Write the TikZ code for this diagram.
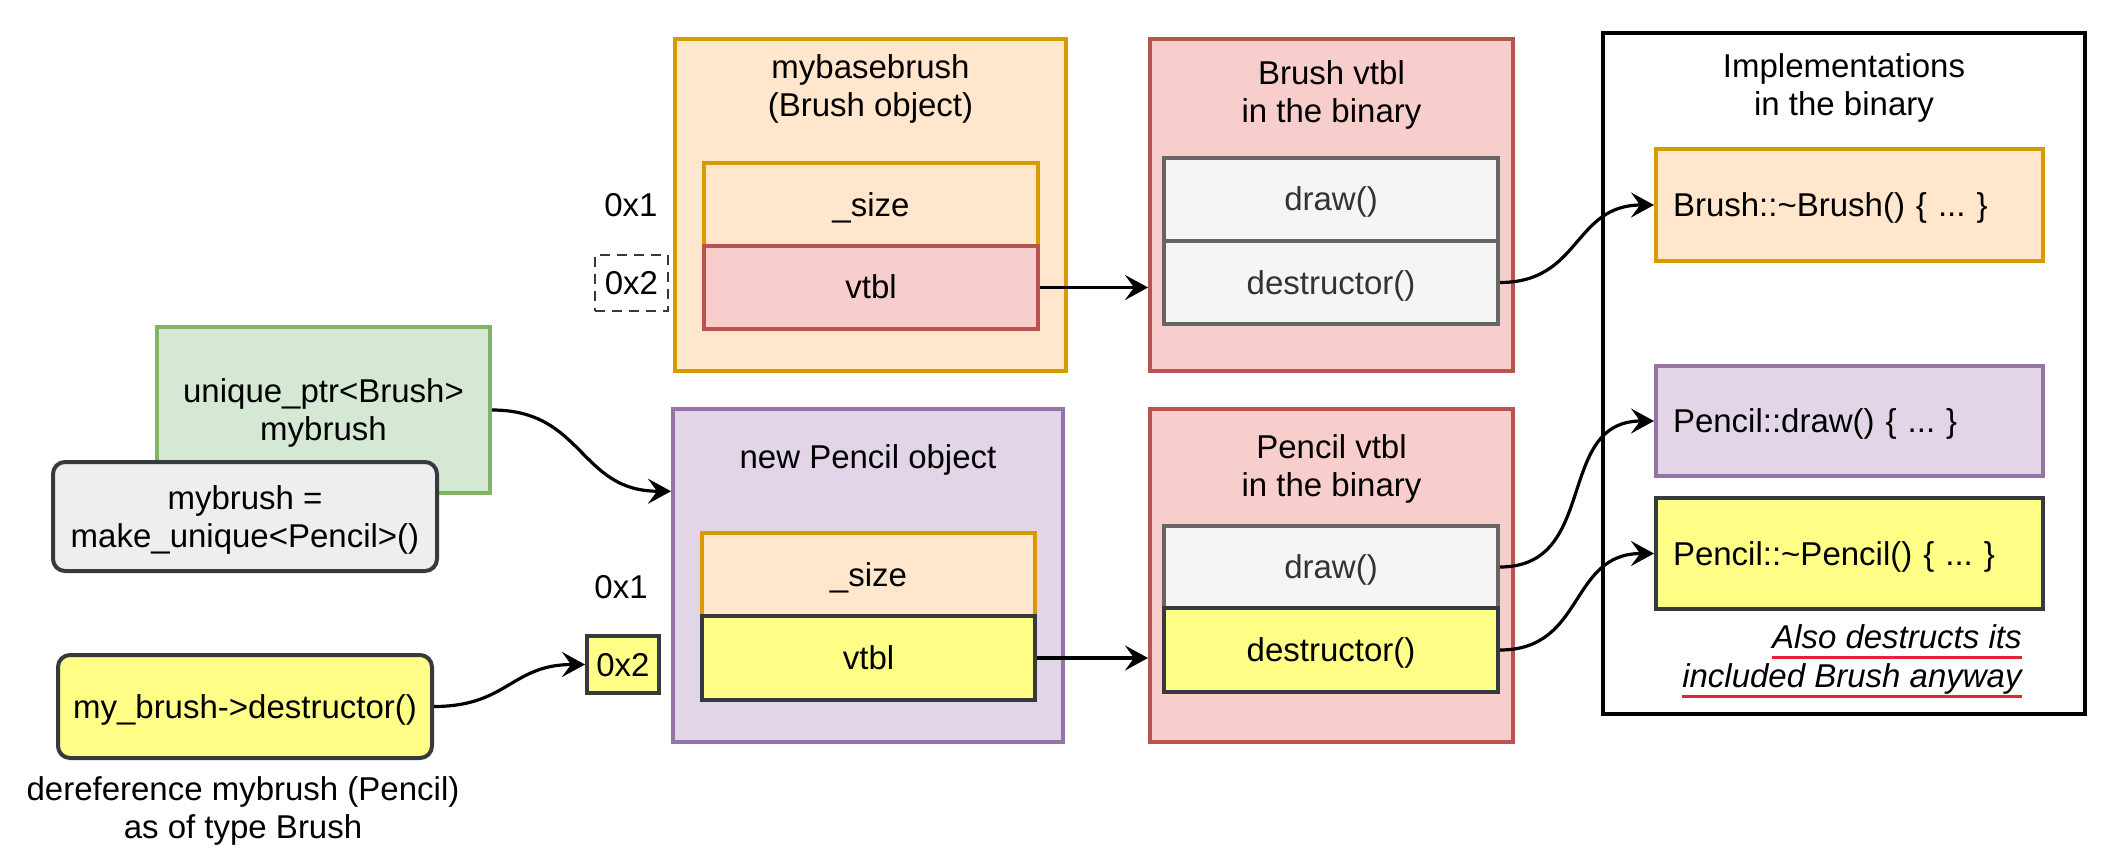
\documentclass[tikz,border=0pt]{standalone}
\usepackage{fontspec}
\setmainfont{Liberation Sans}
\usetikzlibrary{arrows.meta,calc}
\definecolor{oFill}{HTML}{FFE6CC}\definecolor{oLine}{HTML}{D79B00}
\definecolor{rFill}{HTML}{F8CECC}\definecolor{rLine}{HTML}{B85450}
\definecolor{pFill}{HTML}{E1D5E7}\definecolor{pLine}{HTML}{9673A6}
\definecolor{gFill}{HTML}{D5E8D4}\definecolor{gLine}{HTML}{82B366}
\definecolor{sFill}{HTML}{F5F5F5}\definecolor{sLine}{HTML}{666666}\definecolor{sText}{HTML}{333333}
\definecolor{eFill}{HTML}{EEEEEE}\definecolor{dLine}{HTML}{36393D}
\definecolor{yFill}{HTML}{FFFF88}\definecolor{ulRed}{HTML}{E6213A}
\newcommand\ts{\vrule height 15pt depth 3.5pt width 0pt}
\frenchspacing
\begin{document}
\begin{tikzpicture}[x=0.5pt,y=-0.5pt,
  every node/.style={font=\fontsize{16.5pt}{19pt}\selectfont\frenchspacing, inner sep=0pt, align=center},
  box/.style={draw, line width=2pt},
  orangebox/.style={box, fill=oFill, draw=oLine},
  redbox/.style={box, fill=rFill, draw=rLine},
  purplebox/.style={box, fill=pFill, draw=pLine},
  greenbox/.style={box, fill=gFill, draw=gLine},
  graybox/.style={box, fill=sFill, draw=sLine, text=sText},
  yellowbox/.style={box, fill=yFill, draw=dLine},
  roundgray/.style={box, fill=eFill, draw=dLine, rounded corners=6pt},
  roundyellow/.style={box, fill=yFill, draw=dLine, rounded corners=6pt},
  implbox/.style={box, align=left, text width=176.5pt, inner xsep=8.5pt, minimum width=193.5pt},
  conn/.style={line width=1.6pt, -{Stealth[length=11.5pt,width=12.5pt,inset=4.5pt]}},
  note/.style={font=\fontsize{16.5pt}{19pt}\selectfont\itshape, anchor=base east},
  uline/.style={line width=1.5pt, draw=ulRed}
]
\useasboundingbox (0,0) rectangle (2106,856);

% mybasebrush object
\node[orangebox, minimum width=195.5pt, minimum height=166pt] (base) at (870.5,205) {};
\node (tbase) at (870.5,86.5) {\ts mybasebrush\\\ts(Brush object)};
\node[orangebox, minimum width=167pt, minimum height=41.5pt] (size1) at (871,204.5) {\ts\_size};
\node[redbox, minimum width=167pt, minimum height=41.5pt] (vtbl1) at (871,287.5) {\ts vtbl};
\node (lab1a) at (631,205.5) {\ts 0x1};
\node[draw=dLine, line width=1pt, dash pattern=on 5pt off 3.5pt, minimum width=36.5pt, minimum height=28pt] (addr2a) at (631.5,283) {\ts 0x2};

% Brush vtbl
\node[redbox, minimum width=181.5pt, minimum height=166pt] (bvt) at (1331.5,205) {};
\node (tbvt) at (1331.5,92.5) {\ts Brush vtbl\\\ts in the binary};
\node[graybox, minimum width=167pt, minimum height=41.5pt] (draw1) at (1331,199.5) {\ts draw()};
\node[graybox, minimum width=167pt, minimum height=41.5pt] (dtor1) at (1331,282.5) {\ts destructor()};

% Implementations
\node[draw, line width=2.2pt, fill=white, minimum width=241pt, minimum height=340.5pt] (impl) at (1844,373.5) {};
\node (timpl) at (1844,85.5) {\ts Implementations\\\ts in the binary};
\node[implbox, orangebox, minimum height=56pt] (bimpl) at (1849.5,205) {\ts Brush::\textasciitilde Brush() \{ ... \}};
\node[implbox, purplebox, minimum height=55pt] (pdimpl) at (1849.5,421) {\ts Pencil::draw() \{ ... \}};
\node[implbox, yellowbox, minimum height=55.5pt] (pdtimpl) at (1849.5,553.5) {\ts Pencil::\textasciitilde Pencil() \{ ... \}};
\node[note] (note1) at (2022,648) {Also destructs its};
\node[note] (note2) at (2022,687) {included Brush anyway};
\draw[uline] ([yshift=-4.5pt]note1.base west) -- ([yshift=-4.5pt]note1.base east);
\draw[uline] ([yshift=-4.5pt]note2.base west) -- ([yshift=-4.5pt]note2.base east);

% new Pencil object
\node[purplebox, minimum width=195pt, minimum height=166.5pt] (pobj) at (868,575.5) {};
\node (tpobj) at (868,456.5) {\ts new Pencil object};
\node[orangebox, minimum width=166.5pt, minimum height=41.5pt] (size2) at (868.5,574.5) {\ts\_size};
\node[yellowbox, minimum width=166.5pt, minimum height=42pt] (vtbl2) at (868.5,658) {\ts vtbl};
\node (lab1b) at (621,586.5) {\ts 0x1};
\node[yellowbox, minimum width=36pt, minimum height=28.5pt] (addr2b) at (623,664.5) {\ts 0x2};

% Pencil vtbl
\node[redbox, minimum width=181.5pt, minimum height=166.5pt] (pvt) at (1331.5,575.5) {};
\node (tpvt) at (1331.5,465.5) {\ts Pencil vtbl\\\ts in the binary};
\node[graybox, minimum width=167pt, minimum height=41pt] (draw2) at (1331,567) {\ts draw()};
\node[yellowbox, minimum width=167pt, minimum height=42pt] (dtor2) at (1331,650) {\ts destructor()};

% left side
\node[greenbox, minimum width=166.5pt, minimum height=83pt] (uniq) at (323.5,410) {\ts unique\_ptr<Brush>\\\ts mybrush};
\node[roundgray, minimum width=192pt, minimum height=54.5pt] (mk) at (245,516.5) {\ts mybrush =\\\ts make\_unique<Pencil>()};
\node[roundyellow, minimum width=187pt, minimum height=51.5pt] (call) at (245,706.5) {\ts my\_brush->destructor()};
\node (deref) at (243,807.5) {\ts dereference mybrush (Pencil)\\\ts as of type Brush};

% connectors
\draw[conn] (vtbl1.east) -- (vtbl1.east -| bvt.west);
\draw[conn] (vtbl2.east) -- (vtbl2.east -| pvt.west);
\draw[conn] (dtor1.east) to[out=0,in=180,looseness=1.2] (bimpl.west);
\draw[conn] (draw2.east) to[out=0,in=180,looseness=1.2] (pdimpl.west);
\draw[conn] (dtor2.east) to[out=0,in=180,looseness=1.2] (pdtimpl.west);
\draw[conn] (uniq.east) to[out=0,in=180,looseness=1.2] ($(pobj.north west)!0.25!(pobj.south west)$);
\draw[conn] (call.east) to[out=0,in=180,looseness=1.2] (addr2b.west);
\end{tikzpicture}
\end{document}
